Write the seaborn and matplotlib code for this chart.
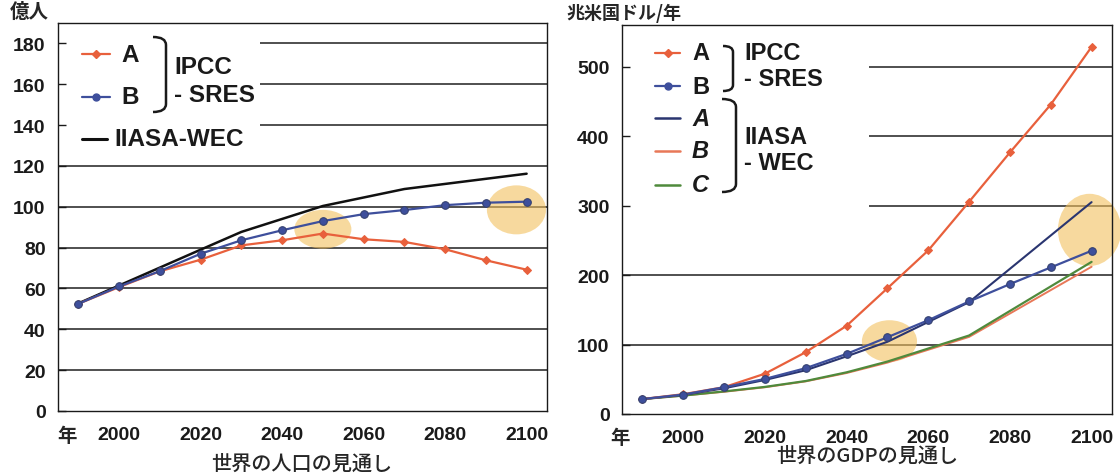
import numpy as np
import seaborn as sns
import matplotlib.pyplot as plt
import matplotlib.transforms as mtransforms
from matplotlib.lines import Line2D
from matplotlib.patches import Rectangle, Ellipse, PathPatch
from matplotlib.path import Path

# --- data ---
years = [1990, 2000, 2010, 2020, 2030, 2040, 2050, 2060, 2070, 2080, 2090, 2100]

# world population (100 million people)
pop_sres_a = [52.5, 60.7, 68.4, 74.1, 81.1, 83.6, 86.9, 84.1, 82.8, 79.2, 73.8, 69.2]
pop_sres_b = [52.5, 61.0, 68.5, 77.0, 83.6, 88.5, 93.0, 96.4, 98.4, 100.8, 102.0, 102.5]
pop_iiasa_years = [1990, 2020, 2030, 2050, 2070, 2100]
pop_iiasa = [52.7, 79.0, 87.7, 100.4, 108.7, 116.2]

# world GDP (trillion US$/year)
gdp_sres_a = [21.5, 28.5, 38.6, 58.0, 89.0, 127.0, 181.0, 235.5, 305.5, 376.5, 445.5, 528.5]
gdp_sres_b = [21.5, 28.0, 38.5, 50.5, 66.0, 86.5, 110.5, 135.0, 162.0, 187.0, 211.0, 235.0]
gdp_iiasa_years = [1990, 2000, 2010, 2020, 2030, 2040, 2050, 2070, 2100]
gdp_iiasa_a = [21.5, 27.5, 37.0, 49.0, 63.0, 83.0, 104.0, 161.0, 305.0]
gdp_iiasa_b = [21.5, 26.5, 32.0, 38.5, 47.0, 59.0, 74.0, 111.0, 212.0]
gdp_iiasa_c = [21.5, 26.5, 32.5, 39.0, 47.5, 60.0, 75.5, 113.0, 219.0]

pop_ticks = [0, 20, 40, 60, 80, 100, 120, 140, 160, 180]
gdp_ticks = [0, 100, 200, 300, 400, 500]
label_years = [2000, 2020, 2040, 2060, 2080, 2100]
label_text = ['2000', '2020', '2040', '2060', '2080', '2100']

C_A = '#e8603c'
C_B = '#3e4f9c'
C_IA = '#2a3570'
C_IB = '#e87858'
C_IC = '#4f8a3c'
C_HI = '#f3c15e'

sns.set_style("white")
plt.rcParams['font.family'] = ['Liberation Sans', 'Noto Sans CJK JP']
JP = ['Noto Sans CJK JP', 'Liberation Sans']

W, H = 1120, 477
fig = plt.figure(figsize=(W / 100, H / 100), dpi=100)
# pixel coordinates measured from the top-left corner of the picture
px = mtransforms.Affine2D().scale(1 / 100, -1 / 100).translate(0, H / 100) + fig.dpi_scale_trans


def box(l, t, r, b):
    return [l / W, 1 - b / H, (r - l) / W, (b - t) / H]


ax1 = fig.add_axes(box(58, 24, 547, 412))
ax2 = fig.add_axes(box(622, 26, 1112, 415))


def style_axes(ax, ticks, ymax):
    ax.set_xlim(years[0] - 5, years[-1] + 5)
    ax.set_ylim(0, ymax)
    ax.set_yticks(ticks)
    ax.set_xticks(label_years)
    ax.set_xticklabels(label_text)
    ax.set_xticks([y - 5 for y in years] + [years[-1] + 5], minor=True)
    ax.tick_params(axis='x', which='major', length=0, pad=10.5, labelsize=14, colors='#1a1a1a')
    ax.tick_params(axis='x', which='minor', direction='in', length=4, width=1, color='#1a1a1a')
    ax.tick_params(axis='y', direction='in', length=6, width=1, pad=9, labelsize=14,
                   colors='#1a1a1a', left=True)
    for lbl in ax.get_xticklabels() + ax.get_yticklabels():
        lbl.set_fontweight('bold')
    for s in ax.spines.values():
        s.set_color('#1a1a1a')
        s.set_linewidth(1.0)
    ax.set_axisbelow(False)
    for v in ticks[1:]:
        ax.axhline(v, color='#1f1f1f', lw=1.1, zorder=0.8)
    ax.set_xlabel('')
    ax.set_ylabel('')


def bracket(ax, x0, x1, yt, yb, r=8):
    verts = [(x0, yt), (x1, yt), (x1, yt + r), (x1, yb - r), (x1, yb), (x0, yb)]
    codes = [Path.MOVETO, Path.CURVE3, Path.CURVE3, Path.LINETO, Path.CURVE3, Path.CURVE3]
    ax.add_patch(PathPatch(Path(verts, codes), transform=px, fill=False, lw=1.8,
                           edgecolor='#1a1a1a', clip_on=False, zorder=4))


def key(ax, x0, x1, y, color, marker=None, ms=4.5, lw=1.6):
    ax.add_line(Line2D([x0, x1], [y, y], transform=px, color=color, lw=lw, clip_on=False, zorder=4))
    if marker:
        ax.add_line(Line2D([(x0 + x1) / 2], [y], transform=px, color=color, marker=marker,
                           ms=ms, clip_on=False, zorder=4))


def label(ax, x, y, s, size=17, style='normal', **kw):
    ax.text(x, y, s, transform=px, fontsize=size, fontweight='bold', fontstyle=style,
            va='center', ha='left', color='#1a1a1a', clip_on=False, zorder=4, **kw)


# --- left: population ---
style_axes(ax1, pop_ticks, 190)
sns.lineplot(x=pop_iiasa_years, y=pop_iiasa, ax=ax1, color='#111111', lw=1.8, legend=False, zorder=2)
sns.lineplot(x=years, y=pop_sres_a, ax=ax1, color=C_A, lw=1.6, marker='D', markersize=4.5,
             markeredgecolor=C_A, legend=False, zorder=3)
sns.lineplot(x=years, y=pop_sres_b, ax=ax1, color=C_B, lw=1.6, marker='o', markersize=5.5,
             markeredgecolor='#34406e', legend=False, zorder=3)
ax1.add_patch(Ellipse((2050, 89), 14, 19, color=C_HI, alpha=0.6, lw=0, zorder=1.5))
ax1.add_patch(Ellipse((2097.5, 98.5), 14.5, 24, color=C_HI, alpha=0.6, lw=0, zorder=1.5, clip_on=False))

ax1.add_patch(Rectangle((59, 25), 201, 136, transform=px, facecolor='white', edgecolor='none', zorder=1))
key(ax1, 82, 110, 55, C_A, 'D', 4)
key(ax1, 82, 110, 98, C_B, 'o', 5)
label(ax1, 121, 55, 'A', 17.5)
label(ax1, 121, 98, 'B', 17.5)
bracket(ax1, 153, 166, 38, 113)
label(ax1, 174, 68, 'IPCC', 17.5)
label(ax1, 174, 96, '- SRES', 17.5)
key(ax1, 82, 107, 140, '#111111', lw=2.2)
label(ax1, 114, 140, 'IIASA-WEC', 17.5)

ax1.text(10, 12, '億人', transform=px, fontsize=14, fontweight='bold', va='center', family=JP)
ax1.text(67, 436, '年', transform=px, fontsize=14, fontweight='bold', ha='center', va='center', family=JP)
ax1.text(302, 464, '世界の人口の見通し', transform=px, fontsize=14.5, fontweight='medium',
         ha='center', va='center', family=JP)

# --- right: GDP ---
style_axes(ax2, gdp_ticks, 560)
sns.lineplot(x=gdp_iiasa_years, y=gdp_iiasa_b, ax=ax2, color=C_IB, lw=1.4, legend=False, zorder=2)
sns.lineplot(x=gdp_iiasa_years, y=gdp_iiasa_c, ax=ax2, color=C_IC, lw=1.6, legend=False, zorder=2)
sns.lineplot(x=gdp_iiasa_years, y=gdp_iiasa_a, ax=ax2, color=C_IA, lw=1.5, legend=False, zorder=2)
sns.lineplot(x=years, y=gdp_sres_a, ax=ax2, color=C_A, lw=1.6, marker='D', markersize=4.5,
             markeredgecolor=C_A, legend=False, zorder=3)
sns.lineplot(x=years, y=gdp_sres_b, ax=ax2, color=C_B, lw=1.6, marker='o', markersize=5.5,
             markeredgecolor='#34406e', legend=False, zorder=3)
ax2.add_patch(Ellipse((2050.5, 105), 13.5, 60, color=C_HI, alpha=0.6, lw=0, zorder=1.5))
ax2.add_patch(Ellipse((2099.5, 265), 15.5, 104, color=C_HI, alpha=0.6, lw=0, zorder=1.5, clip_on=False))

ax2.add_patch(Rectangle((623, 27), 246, 191, transform=px, facecolor='white', edgecolor='none', zorder=1))
key(ax2, 655, 680, 54, C_A, 'D', 4)
key(ax2, 655, 680, 87, C_B, 'o', 5)
label(ax2, 692, 54, 'A')
label(ax2, 692, 87, 'B')
bracket(ax2, 723, 733, 47, 92, r=6)
label(ax2, 744, 53, 'IPCC')
label(ax2, 744, 80, '- SRES')
key(ax2, 655, 680, 119, C_IA, lw=1.8)
key(ax2, 655, 680, 152, C_IB, lw=1.8)
key(ax2, 655, 680, 186, C_IC, lw=1.8)
label(ax2, 692, 119, 'A', style='italic')
label(ax2, 692, 152, 'B', style='italic')
label(ax2, 692, 186, 'C', style='italic')
bracket(ax2, 722, 736, 100, 193)
label(ax2, 744, 138, 'IIASA')
label(ax2, 744, 163, '- WEC')

ax2.text(566, 13, '兆米国ドル/年', transform=px, fontsize=13, fontweight='bold', va='center', family=JP)
ax2.text(620, 438, '年', transform=px, fontsize=14, fontweight='bold', ha='center', va='center', family=JP)
ax2.text(867, 456, '世界のGDPの見通し', transform=px, fontsize=14.5, fontweight='medium',
         ha='center', va='center', family=JP)

fig.savefig('out.png', dpi=100)
